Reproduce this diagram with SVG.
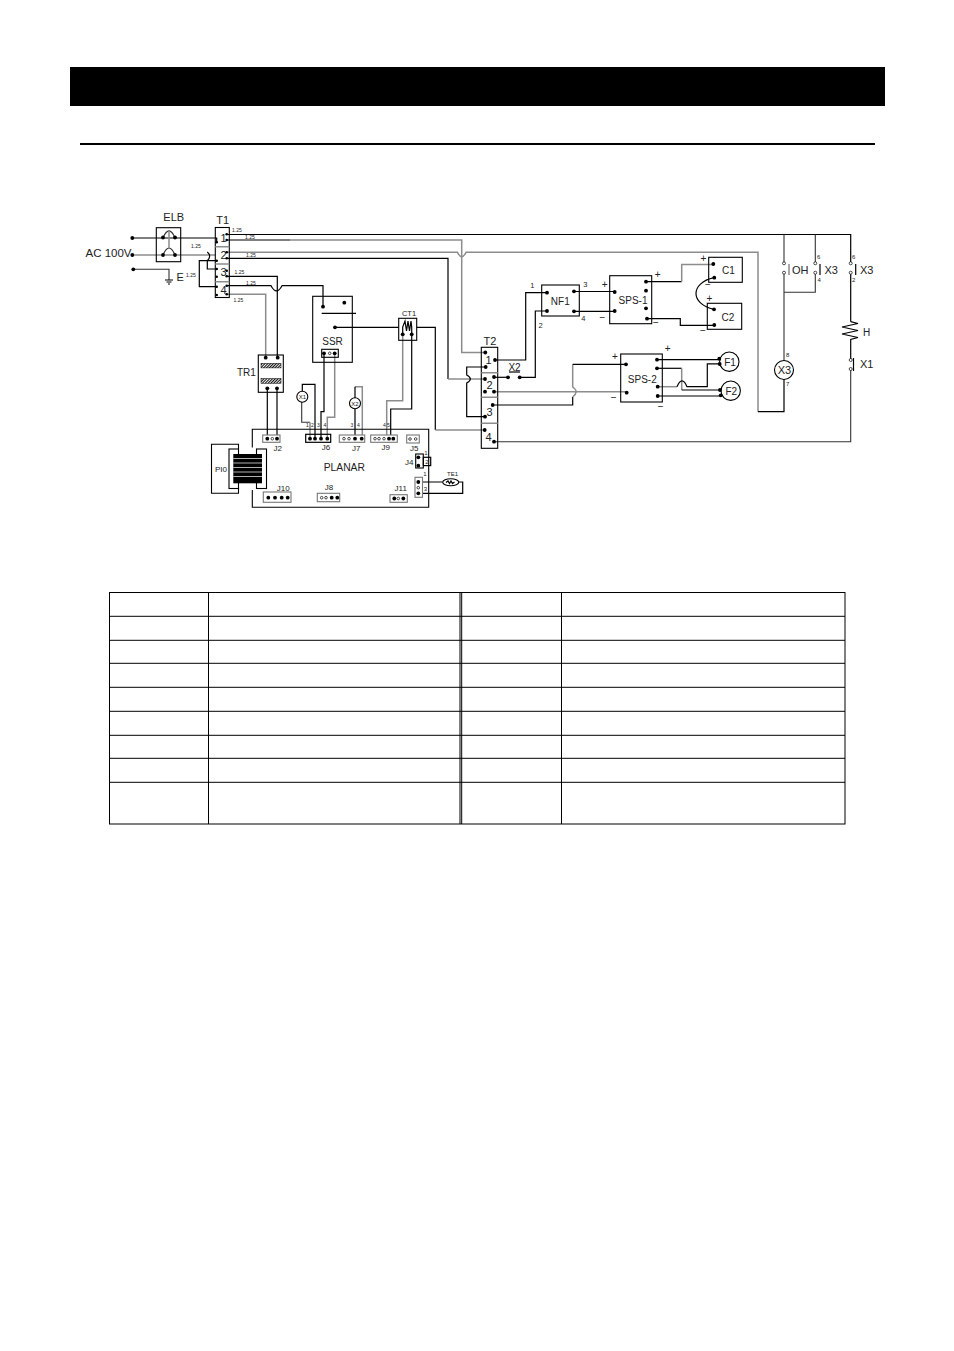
<svg xmlns="http://www.w3.org/2000/svg" width="954" height="1351" viewBox="0 0 954 1351">
<style>
text{font-family:"Liberation Sans",Arial,sans-serif;fill:#222}
.b{fill:none;stroke:#000;stroke-width:1.2}
.g{fill:none;stroke:#8c8c8c;stroke-width:1.5}
.k{fill:none;stroke:#333;stroke-width:1.1}
.box{fill:none;stroke:#000;stroke-width:1.1}
.wbox{fill:#fff;stroke:#000;stroke-width:1.1}
.nb{fill:none;stroke:#000;stroke-width:1.2}
.gb{fill:#fff;stroke:#777;stroke-width:1.1}
.tl{fill:none;stroke:#000;stroke-width:1}
.s5{font-size:5px}.s6{font-size:6px}.s7{font-size:7.5px}.s8{font-size:8px}.s10{font-size:10px}.s11{font-size:11px}
.m{text-anchor:middle}
.o{fill:#fff;stroke:#000;stroke-width:.7}
</style>
<defs>
<circle id="d" r="1.9" fill="#000"/>
<circle id="sd" r="1.3" fill="#000"/>
<circle id="od" r="1.3" fill="#fff" stroke="#000" stroke-width=".7"/>
<pattern id="hatch" width="2" height="2" patternUnits="userSpaceOnUse" patternTransform="rotate(45)"><rect width="2" height="2" fill="#eee"/><rect width="1" height="2" fill="#111"/></pattern>
</defs>
<rect width="954" height="1351" fill="#fff"/>
<rect id="header" x="70" y="67" width="815" height="39" fill="#000"/>
<rect id="rule" x="80" y="143" width="795" height="2" fill="#000"/>

<g id="connectors">
<path class="b" d="M132.300 238H216.700V242.300"/>
<path class="g" d="M132.300 255H215.300"/>
<path class="k" d="M133.300 269.300H169V280"/>
<path class="b" d="M207.300 252Q212 256 207.300 260.700H216.700M207.300 260.700H199.300V286.700H216.700M207.300 260.700V269H216.700"/>
<path class="b" d="M226.700 234.500H850.700V263.300"/>
<path class="b" d="M226.700 240H290"/><path class="g" d="M290 240H461.700V352.500H485.300"/>
<path class="g" d="M226.700 252.300H457.500Q461.700 261 466 252.300H758V411.700"/><path class="b" d="M758 411.700H784V379.500"/>
<path class="b" d="M226.700 258.300H448V379"/><path class="g" d="M448 379H485"/>
<path class="b" d="M226.700 276.300H277.300V357.700"/>
<path class="b" d="M226.700 285.700H271Q276.500 296 282 285.700H323V306.700"/>
<path class="g" d="M226.700 294.300H265.700V357.700"/>
<path class="b" d="M267.300 388.300V438.700M277 388.300V438.700"/>
<path class="b" d="M324 353.300V411.700H321V438.700"/><path class="g" d="M334.700 353.300V417.300H327.300V438.700"/>
<path class="b" d="M335 327.300H398.700M416.700 327.300H435.300V430"/><path class="g" d="M435.300 430H484.700"/>
<path class="g" d="M402.700 334.300V400.700H386.700V438.700"/><path class="b" d="M411.700 334.300V409H390.700V438.700"/>
<path class="b" d="M302.300 391V384.300H315V438.700"/><path class="k" d="M301.700 402V422.300H310"/><path class="g" d="M310 422.300V438.700"/>
<path class="g" d="M355 386.700H362.300V438.700"/><path class="b" d="M355 386.700V398M355 409V438.700"/>
<path class="b" d="M485.700 367H466.700V375Q474 379 466.700 383V416.700H485"/>
<path class="b" d="M495 360H525.700V292.700H547"/><path class="b" d="M494 377.300H508"/><path class="b" d="M519.700 377.300H535.300V311H547"/>
<path class="b" d="M574 291.500H614.700M574 311.300H614.700"/>
<path class="b" d="M646 281.700H681.700"/><path class="g" d="M681.700 281.700V264.500H713.300"/>
<path class="b" d="M647 318.700H680.300V325.300H714.300"/>
<path class="b" d="M714 277.700C690 283 690 304 714 309.300"/>
<path class="g" d="M494 391.700H626.700"/>
<path class="b" d="M492.700 405H572.700V397"/><path class="g" d="M572.700 397Q579.500 391.700 572.700 387V364.300"/><path class="b" d="M572.700 364.300H626"/>
<path class="b" d="M657 359.700H719.300"/>
<path class="b" d="M657 368.300H681.700"/><path class="g" d="M681.700 368.300V390"/><path class="b" d="M681.700 390H720"/>
<path class="g" d="M657.700 386.700H677"/><path class="b" d="M677 386.700Q682 375 687 386.700H707.300V363.800H719.700"/>
<path class="b" d="M657.700 396H720.700"/>
<path class="k" d="M494 441.700H850.700V369"/>
<path class="b" d="M850.700 272.700V321.700M850.700 344V360"/>
<path class="k" d="M784 234.500V263.300M784 272.700V360.500M815.300 234.500V263.300M815.300 272.700V292.300H784"/>
<path class="b" d="M418.300 482H442.700M458.700 482H462.700V493.300H418.300"/>
</g>

<g id="ELB"><rect class="box" x="156.300" y="227.700" width="24.400" height="34"/><path class="k" d="M163 237.700Q169 224 175 237.700M163 255Q169 241 175 255"/><path class="g" d="M169 231V248"/><use href="#d" x="163" y="237.500"/><use href="#d" x="175" y="237.500"/><use href="#d" x="163" y="255"/><use href="#d" x="175" y="255"/><text class="s11 m" x="173.700" y="221">ELB</text></g>
<g id="T1"><rect class="box" x="215.300" y="227.500" width="14" height="70"/><path class="g" d="M215.300 246.700H229.300M215.300 264H229.300M215.300 281.700H229.300"/><text class="s11 m" x="222.700" y="224">T1</text><text class="s11 m" x="223.500" y="242">1</text><text class="s11 m" x="223.500" y="258.500">2</text><text class="s11 m" x="223.500" y="276">3</text><text class="s11 m" x="223.500" y="293.500">4</text>
<use href="#sd" x="216.700" y="242.300"/><use href="#sd" x="216.700" y="260.700"/><use href="#sd" x="216.700" y="269"/><use href="#sd" x="216.700" y="276.700"/><use href="#sd" x="216.700" y="286.700"/><use href="#sd" x="216.700" y="295"/><use href="#sd" x="226.700" y="234.300"/><use href="#sd" x="226.700" y="240"/><use href="#sd" x="226.700" y="252.300"/><use href="#sd" x="226.700" y="258.300"/><use href="#sd" x="226.700" y="270.700"/><use href="#sd" x="226.700" y="276.300"/><use href="#sd" x="226.700" y="285.700"/><use href="#sd" x="226.700" y="294.300"/></g>
<g id="SSR"><rect class="box" x="312.700" y="296.300" width="39.600" height="66"/><path class="b" d="M321.700 313.300H356"/><use href="#d" x="323" y="306.700"/><use href="#d" x="344.300" y="302.700"/><use href="#d" x="335" y="327.300"/><text class="s10 m" x="332.500" y="345">SSR</text><rect class="box" x="321.700" y="349.300" width="16.600" height="8"/><use href="#d" x="324" y="353.300"/><use href="#od" x="329.700" y="353.300"/><use href="#d" x="334.700" y="353.300"/></g>
<g id="CT1"><rect class="box" x="398.700" y="318.300" width="18" height="22"/><path class="b" d="M402.700 334V327L405 321L406.500 331L408 321L409.500 331L411 321L411.700 327V334"/><use href="#d" x="402.700" y="334.300"/><use href="#d" x="411.700" y="334.300"/><text class="s7 m" x="409" y="316">CT1</text></g>
<g id="T2"><rect class="box" x="481.300" y="347.300" width="16.400" height="101"/><path class="g" d="M481.300 372.700H497.700M481.300 397.300H497.700M481.300 423.300H497.700"/><text class="s11 m" x="490" y="345">T2</text><text class="s11 m" x="488.500" y="364">1</text><text class="s11 m" x="489.500" y="389">2</text><text class="s11 m" x="489.500" y="416">3</text><text class="s11 m" x="488.500" y="441">4</text>
<use href="#d" x="485.300" y="352.500"/><use href="#d" x="495" y="360"/><use href="#d" x="485.700" y="367"/><use href="#d" x="485" y="379"/><use href="#d" x="494" y="377"/><use href="#d" x="485" y="391.700"/><use href="#d" x="494" y="391.700"/><use href="#d" x="492.700" y="405"/><use href="#d" x="485" y="416.700"/><use href="#d" x="484.700" y="430"/><use href="#d" x="494" y="441.700"/></g>
<g id="X2"><use href="#d" x="508" y="377.300"/><use href="#d" x="519.700" y="377.300"/><path class="b" d="M509 372H520"/><text class="s10 m" x="514.500" y="370.500">X2</text></g>
<g id="NF1"><rect class="box" x="541.700" y="285" width="37.600" height="31"/><use href="#d" x="547" y="292.700"/><use href="#d" x="547" y="311"/><use href="#d" x="574" y="291.300"/><use href="#d" x="574" y="311.300"/><text class="s10 m" x="560.300" y="304.500">NF1</text><text class="s7 m" x="532.300" y="288">1</text><text class="s7 m" x="540.700" y="328">2</text><text class="s7 m" x="585.300" y="287">3</text><text class="s7 m" x="583.300" y="320.500">4</text></g>
<g id="SPS-1"><rect class="box" x="609.700" y="275.700" width="42" height="48"/><use href="#d" x="614.700" y="292"/><use href="#d" x="614.700" y="311"/><use href="#d" x="646" y="281.700"/><use href="#d" x="646" y="290.700"/><use href="#d" x="646" y="308.300"/><use href="#d" x="647" y="318.700"/><text class="s10 m" x="633" y="303.500">SPS-1</text><text class="s10 m" x="604.700" y="288">+</text><text class="s10 m" x="602.300" y="321">−</text><text class="s10 m" x="657.700" y="278">+</text><text class="s10 m" x="656" y="326">−</text></g>
<g id="C1"><rect class="box" x="708.700" y="257.300" width="33.600" height="25"/><use href="#d" x="713.300" y="264"/><use href="#d" x="714.300" y="277.700"/><text class="s10 m" x="728.500" y="274">C1</text><text class="s10 m" x="703.300" y="262">+</text><text class="s10 m" x="708" y="288">−</text></g>
<g id="C2"><rect class="box" x="707.300" y="303.300" width="34.400" height="26"/><use href="#d" x="714" y="309.300"/><use href="#d" x="714.300" y="325"/><text class="s10 m" x="728" y="320.500">C2</text><text class="s10 m" x="709.300" y="302">+</text><text class="s10 m" x="703" y="334">−</text></g>
<g id="SPS-2"><rect class="box" x="620.700" y="354" width="41.600" height="48"/><use href="#d" x="626" y="364.300"/><use href="#d" x="626.700" y="392.700"/><use href="#d" x="657" y="359.700"/><use href="#d" x="657" y="368.300"/><use href="#d" x="657.700" y="386.700"/><use href="#d" x="657.700" y="396"/><text class="s10 m" x="642.300" y="383">SPS-2</text><text class="s10 m" x="615" y="360">+</text><text class="s10 m" x="613.700" y="400.500">−</text><text class="s10 m" x="667.700" y="352">+</text><text class="s10 m" x="660.700" y="409.500">−</text></g>
<g id="F1"><circle class="box" cx="729.300" cy="361.700" r="9.700"/><use href="#d" x="719.300" y="358.700"/><use href="#d" x="719.700" y="364"/><text class="s10 m" x="730" y="365.500">F1</text></g>
<g id="F2"><circle class="box" cx="730.700" cy="390.700" r="9.700"/><use href="#d" x="720" y="390"/><use href="#d" x="720.700" y="395.300"/><text class="s10 m" x="731.300" y="394.500">F2</text></g>
<g id="OH"><circle class="o" cx="784" cy="263.300" r="1.500"/><circle class="o" cx="784" cy="272.700" r="1.500"/><path class="g" d="M789 264V275"/><text class="s11" x="792" y="274">OH</text></g>
<g id="X3-contact-a"><circle class="o" cx="815.300" cy="263.300" r="1.500"/><circle class="o" cx="815.300" cy="272.700" r="1.500"/><path class="b" d="M820 264V275"/><text class="s11" x="824.500" y="274">X3</text><text class="s6" x="817" y="259">6</text><text class="s6" x="817.500" y="282">4</text></g>
<g id="X3-contact-b"><circle class="o" cx="850.700" cy="263.300" r="1.500"/><circle class="o" cx="850.700" cy="272.700" r="1.500"/><path class="b" d="M855.700 264V275"/><text class="s11" x="860" y="274">X3</text><text class="s6" x="852" y="259">6</text><text class="s6" x="852" y="282">2</text></g>
<g id="H"><path class="b" d="M850.700 321.700L858 323.500L842 327L858 330.500L842 334L858 337.500L850.700 339.500V344"/><text class="s10" x="863" y="336">H</text></g>
<g id="X1-contact"><circle class="o" cx="850.700" cy="360" r="1.500"/><circle class="o" cx="850.700" cy="369" r="1.500"/><path class="b" d="M853.500 358V371"/><text class="s11" x="860" y="368">X1</text></g>
<g id="X3-coil"><circle class="box" cx="784" cy="370" r="9.500"/><text class="s11 m" x="784.500" y="374">X3</text><text class="s6" x="786" y="357">8</text><text class="s6" x="786" y="386">7</text></g>
<g id="TR1"><rect class="box" x="258.300" y="355" width="25" height="37.300"/><rect x="261" y="363.300" width="20" height="4.600" fill="url(#hatch)" stroke="#000" stroke-width=".5"/><rect x="261" y="378.500" width="20" height="4.800" fill="url(#hatch)" stroke="#000" stroke-width=".5"/><use href="#d" x="265.700" y="357.700"/><use href="#d" x="277.700" y="357.700"/><use href="#d" x="267.300" y="388.300"/><use href="#d" x="277" y="388.300"/><text class="s10" x="237" y="376">TR1</text></g>
<g id="X1-lamp"><circle class="box" cx="302.300" cy="396.700" r="5.500"/><text class="s6 m" x="302.300" y="399">X1</text></g>
<g id="X2-lamp"><circle class="box" cx="355" cy="403.300" r="5.500"/><text class="s6 m" x="355" y="405.500">X2</text></g>
<g id="PLANAR"><path class="box" d="M252.300 447.500V429.300H428.700V507.300H252.300V490"/><text class="s10 m" x="344.300" y="471" style="font-size:10.300px">PLANAR</text>
<rect class="gb" x="262.700" y="435" width="17.300" height="7.300"/><use href="#d" x="267.300" y="438.700"/><use href="#od" x="272.300" y="438.700"/><use href="#d" x="277" y="438.700"/><text class="s8 m" x="277.700" y="450.500">J2</text>
<rect class="nb" x="305.700" y="434.300" width="25" height="8"/><use href="#d" x="310" y="438.700"/><use href="#d" x="315" y="438.700"/><use href="#d" x="321" y="438.700"/><use href="#d" x="327.300" y="438.700"/><text class="s8 m" x="326" y="450">J6</text><text class="s5" x="306" y="427">1</text><text class="s5" x="311" y="427">2</text><text class="s5" x="317" y="427">3</text><text class="s5" x="323.500" y="427">4</text>
<rect class="gb" x="339.300" y="435" width="25.400" height="7.300"/><use href="#od" x="344" y="438.700"/><use href="#od" x="349" y="438.700"/><use href="#d" x="355" y="438.700"/><use href="#d" x="361.700" y="438.700"/><text class="s8 m" x="356.300" y="451">J7</text><text class="s5" x="350.500" y="427">3</text><text class="s5" x="357" y="427">4</text>
<rect class="gb" x="370.700" y="435" width="26.600" height="7.300"/><use href="#od" x="375" y="438.700"/><use href="#od" x="379" y="438.700"/><use href="#od" x="384" y="438.700"/><use href="#d" x="389" y="438.700"/><use href="#d" x="393.300" y="438.700"/><text class="s8 m" x="385.700" y="450">J9</text><text class="s5" x="383" y="427">4</text><text class="s5" x="387" y="427">5</text>
<rect class="gb" x="406.700" y="435" width="12.600" height="8"/><use href="#od" x="410" y="439"/><use href="#od" x="415.700" y="439"/><text class="s8 m" x="414.300" y="451">J5</text>
<rect class="wbox" x="415.700" y="454" width="7.600" height="14"/><rect class="nb" x="423.300" y="457.300" width="7.400" height="8.300"/><use href="#d" x="418.300" y="457.300"/><use href="#d" x="418.300" y="465.700"/><text class="s6 m" x="427" y="464">2</text><text class="s6 m" x="426" y="455">1</text><text class="s8 m" x="409.300" y="465">J4</text>
<rect class="gb" x="415" y="477.300" width="7.500" height="20"/><use href="#d" x="418.300" y="482"/><use href="#od" x="418.300" y="487.700"/><use href="#d" x="418.300" y="493.300"/><text class="s6 m" x="425" y="476">1</text><text class="s6 m" x="425.500" y="491">3</text>
<rect class="gb" x="263.300" y="492" width="27.700" height="10.300"/><use href="#d" x="268.300" y="497.700"/><use href="#d" x="275" y="497.700"/><use href="#d" x="281.700" y="497.700"/><use href="#d" x="287.700" y="497.700"/><text class="s8 m" x="283.300" y="491">J10</text>
<rect class="gb" x="317.300" y="493.300" width="22.400" height="8.400"/><use href="#od" x="321.700" y="497.700"/><use href="#od" x="326" y="497.700"/><use href="#d" x="331.700" y="497.700"/><use href="#d" x="337.300" y="497.700"/><text class="s8 m" x="329" y="490">J8</text>
<rect class="gb" x="390" y="494.700" width="17.300" height="7.600"/><use href="#d" x="394.300" y="498.500"/><use href="#od" x="398.300" y="498.500"/><use href="#d" x="403.300" y="498.500"/><text class="s8 m" x="400.700" y="491">J11</text></g>
<g id="PID"><path class="box" d="M238.500 449V444.300H211.500V493.300H238.500V488"/><rect class="wbox" x="229" y="449" width="9.500" height="39.500"/><rect class="wbox" x="256.500" y="449" width="10" height="39.500"/><rect x="233.300" y="454" width="28.700" height="29.300" fill="#000"/><path d="M233.300 458.500H262M233.300 463H262M233.300 467.500H262M233.300 472H262M233.300 476.500H262" stroke="#ddd" stroke-width=".8"/><text class="s8 m" x="221" y="472">PI0</text></g>
<g id="TE1"><ellipse class="wbox" cx="450.700" cy="482.300" rx="8" ry="3.500"/><path class="b" d="M446 482.500L448 481L449.500 483.500L451 481L452.500 483.500L454.500 482" stroke-width=".6"/><text class="s6 m" x="452.500" y="475.500">TE1</text></g>
<g id="AC"><use href="#d" x="132.300" y="238"/><use href="#d" x="132.300" y="255"/><use href="#d" x="133.300" y="269.300"/><text class="s11" x="85.500" y="257" style="font-size:11.500px">AC 100V</text><path class="b" d="M165 280H173M166.500 282H171.500M168 284H170"/><text class="s11" x="176.500" y="281">E</text></g>

<g id="bom-table"><rect class="tl" x="109.500" y="592.500" width="735.500" height="231.500"/>
<path class="tl" d="M208.500 592.500V824M460 592.500V824M461.700 592.500V824M561.500 592.500V824M109.500 616.300H845M109.500 640.300H845M109.500 663.300H845M109.500 687.300H845M109.500 711.300H845M109.500 735.300H845M109.500 758.300H845M109.500 782.300H845"/></g>

<g id="labels-125"><text class="s5" x="232" y="232">1.25</text><text class="s5" x="245" y="238.500">1.25</text><text class="s5" x="191" y="248">1.25</text><text class="s5" x="246" y="256.500">1.25</text><text class="s5" x="186" y="276.500">1.25</text><text class="s5" x="234.500" y="273.700">1.25</text><text class="s5" x="246" y="284.700">1.25</text><text class="s5" x="233.500" y="301.700">1.25</text></g>
</svg>
